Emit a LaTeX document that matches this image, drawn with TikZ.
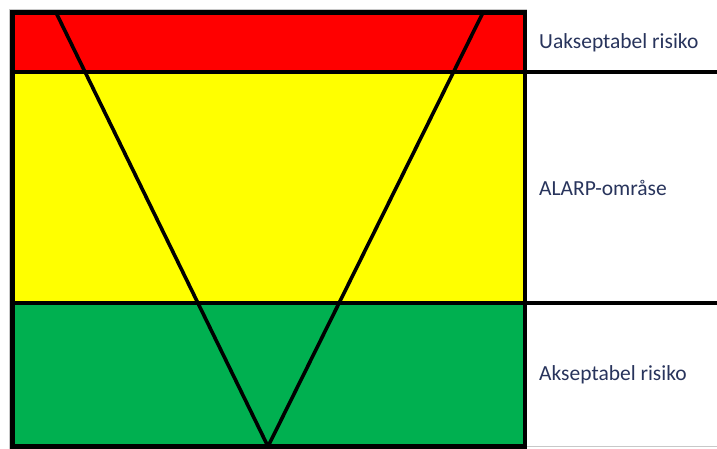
\documentclass[tikz,border=0pt]{standalone}
\usepackage{fontspec}
\setmainfont{Carlito}
\definecolor{bandred}{RGB}{255,0,0}
\definecolor{bandyellow}{RGB}{255,255,0}
\definecolor{bandgreen}{RGB}{0,176,80}
\definecolor{labeltext}{RGB}{40,52,92}
\definecolor{faintgray}{RGB}{200,200,200}
\tikzset{
  border/.style={line width=4.5pt, black},
  vline/.style={line width=3.6pt, black, line cap=round},
  bandlabel/.style={anchor=west, inner sep=0pt, text=labeltext, font=\fontsize{21.5}{24}\selectfont},
}
\begin{document}
\begin{tikzpicture}[x=1pt,y=-1pt]
\useasboundingbox (0,0) rectangle (717,449);
\fill[white] (0,0) rectangle (717,449);
% faint frame
\draw[faintgray, line width=0.8pt] (9,449) -- (9,9) -- (527,9);
\draw[faintgray, line width=0.8pt] (527,446) -- (717,446);
% bands
\fill[bandred] (12.5,12.5) rectangle (525,72);
\fill[bandyellow] (12.5,72) rectangle (525,303);
\fill[bandgreen] (12.5,303) rectangle (525,446.5);
% V
\coordinate (tl) at (56,12.5);
\coordinate (tr) at (483,12.5);
\coordinate (apex) at (268,446.5);
\draw[vline] (tl) -- (apex) -- (tr);
% borders
\draw[border] (12.5,12.5) rectangle (525,446.5);
\draw[border] (12.5,72) -- (717,72);
\draw[border] (12.5,303) -- (717,303);
% labels
\node[bandlabel] (u) at (539,42.5) {Uakseptabel risiko};
\node[bandlabel] (m) at (539,187.5) {ALARP-områse};
\node[bandlabel] (a) at (539,375) {Akseptabel risiko};
\end{tikzpicture}
\end{document}
